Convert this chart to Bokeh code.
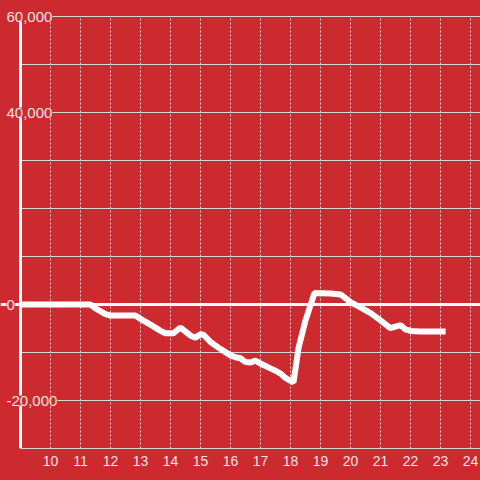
from bokeh.plotting import figure
from bokeh.models import (Range1d, FixedTicker, Span, LabelSet, ColumnDataSource,
                          GlobalInlineStyleSheet)
from bokeh.core.properties import value
from bokeh.embed import file_html
from bokeh.resources import INLINE

# data
hours = [9.0, 11.33, 11.5, 11.83, 12.0, 12.83, 13.0, 13.33, 13.67, 13.83, 14.1,
         14.33, 14.67, 14.83, 15.0, 15.1, 15.33, 15.67, 16.0, 16.17, 16.33, 16.5,
         16.67, 16.83, 17.0, 17.33, 17.5, 17.67, 17.83, 18.0, 18.1, 18.27, 18.5,
         18.8, 19.33, 19.67, 20.0, 20.33, 20.67, 21.0, 21.33, 21.5, 21.67, 21.83,
         22.0, 22.33, 23.17]
values = [0, 0, -800, -2000, -2300, -2300, -3000, -4200, -5500, -6000, -6000,
          -4800, -6500, -6900, -6200, -6300, -7800, -9300, -10600, -11000, -11200, -12000,
          -12100, -11700, -12300, -13300, -13800, -14400, -15300, -15900, -16200, -9000, -3300,
          2400, 2300, 2100, 500, -600, -1800, -3300, -4900, -4600, -4300, -5200,
          -5500, -5600, -5600]
x_ticks = [10, 11, 12, 13, 14, 15, 16, 17, 18, 19, 20, 21, 22, 23, 24]
y_grid = [-20000, -10000, 10000, 20000, 30000, 40000, 50000, 60000]
y_label_values = [-20000, 0, 40000, 60000]
y_label_texts = ["-20,000", "0", "40,000", "60,000"]

X_START, X_END = 9, 24 + 1 / 3
Y_MIN, Y_MAX = -30000, 60000

RED = "#cc2a2f"
TXT = "#f3e4e4"
GRID = "#d8d8d8"

p = figure(width=480, height=480, output_backend="svg", toolbar_location=None,
           x_range=Range1d(X_START - 20 / 30, X_END),
           y_range=Range1d(Y_MIN, Y_MAX + 16 * 90000 / 432),
           min_border_left=0, min_border_right=0, min_border_top=0, min_border_bottom=32)
p.background_fill_color = RED
p.border_fill_color = RED
p.outline_line_color = None

# x axis
p.xaxis.ticker = FixedTicker(ticks=x_ticks)
p.xaxis.bounds = (X_START, X_END)
p.xaxis.axis_line_color = GRID
p.xaxis.axis_line_width = 1
p.xaxis.major_tick_line_color = None
p.xaxis.minor_tick_line_color = None
p.xaxis.major_tick_out = 0
p.xaxis.major_label_standoff = 7
p.xaxis.major_label_text_color = TXT
p.xaxis.major_label_text_font = "Liberation Sans"
p.xaxis.major_label_text_font_size = "14px"

p.yaxis.visible = False
p.xgrid.grid_line_color = None
p.ygrid.grid_line_color = None

# grid lines
p.segment(x0=x_ticks, x1=x_ticks, y0=[Y_MIN] * len(x_ticks), y1=[Y_MAX] * len(x_ticks),
          line_color=GRID, line_width=1, line_dash="2 2")
p.segment(x0=[X_START] * len(y_grid), x1=[X_END] * len(y_grid), y0=y_grid, y1=y_grid,
          line_color=GRID, line_width=1)

p.add_layout(Span(location=0, dimension="width", line_color="white", line_width=3))
# y axis line
p.segment(x0=[X_START], x1=[X_START], y0=[Y_MIN], y1=[Y_MAX], line_color="white", line_width=3)

p.line(hours, values, line_color="white", line_width=6)

src = ColumnDataSource(dict(x=[X_START] * len(y_label_values), y=y_label_values, t=y_label_texts))
labels = LabelSet(x="x", y="y", text="t", source=src, x_offset=-14, text_align="left",
                  text_baseline="middle", text_color=TXT, text_font_size=value("15px"),
                  text_font=value("Liberation Sans"), background_fill_color=RED)
p.add_layout(labels)

p.stylesheets = [GlobalInlineStyleSheet(css="html, body { margin: 0; padding: 0; background: #cc2a2f; }")]

open("out.html", "w").write(file_html(p, INLINE))
